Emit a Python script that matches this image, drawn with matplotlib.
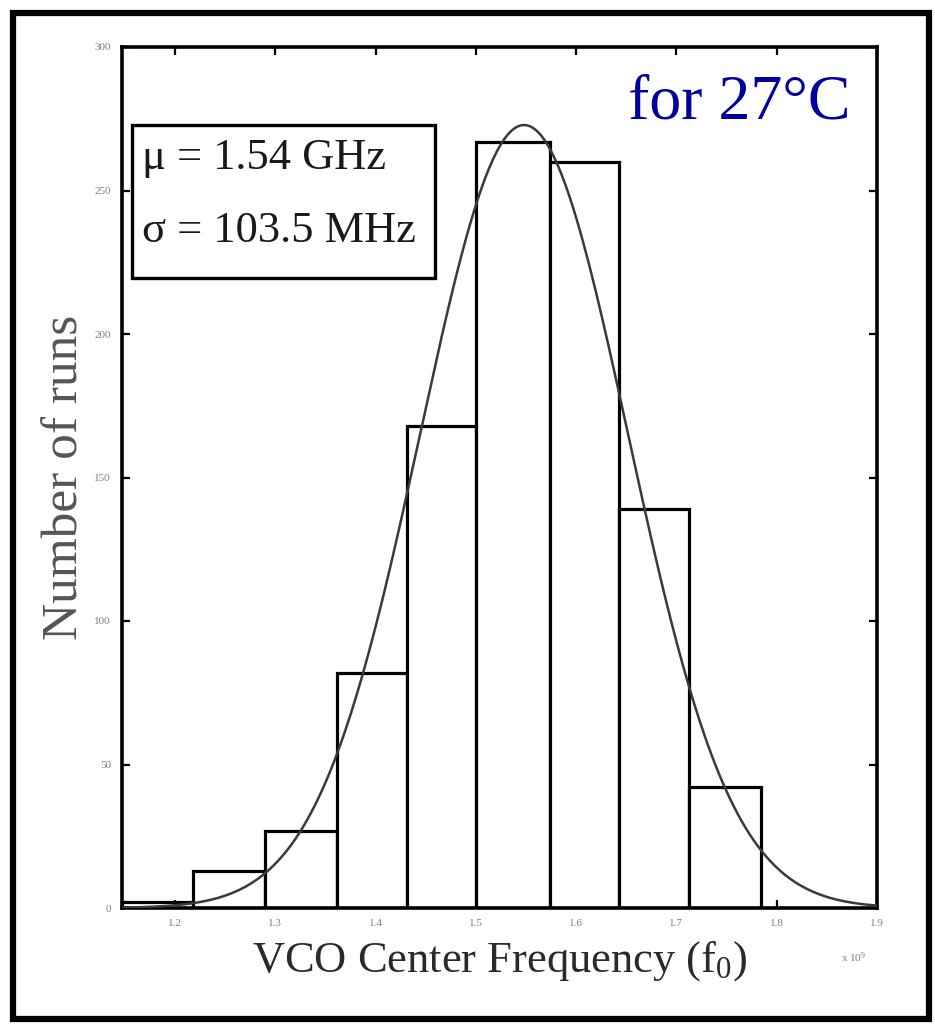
import numpy as np
import matplotlib
matplotlib.use('Agg')
import matplotlib.pyplot as plt
from matplotlib.patches import Rectangle

##### DATA #####
# histogram bin edges (x 1e9 Hz) and counts per bin
bin_edges = [1.147, 1.218, 1.290, 1.361, 1.431, 1.500, 1.574, 1.643, 1.712, 1.784]
counts = [2, 13, 27, 82, 168, 267, 260, 139, 42]

# fitted normal curve (as drawn)
fit_mean = 1.548
fit_sigma = 0.1035

x_ticks = [1.2, 1.3, 1.4, 1.5, 1.6, 1.7, 1.8, 1.9]
x_ticklabels = ['1.2', '1.3', '1.4', '1.5', '1.6', '1.7', '1.8', '1.9']
y_ticks = [0, 50, 100, 150, 200, 250, 300]

mu_label = 'μ = 1.54 GHz'
sigma_label = 'σ = 103.5 MHz'
temp_label = 'for 27°C'

##### STYLE #####
plt.rcParams['font.family'] = ['Liberation Serif', 'DejaVu Serif']
plt.rcParams['mathtext.fontset'] = 'custom'
plt.rcParams['mathtext.rm'] = 'Liberation Serif'
plt.rcParams['mathtext.it'] = 'Liberation Serif:italic'

W, H = 935, 1028
fig = plt.figure(figsize=(W / 100, H / 100), dpi=100, facecolor='white')

# axes box in pixels: left 122, right 877, top 47, bottom 908
ax = fig.add_axes([122 / W, 1 - 908 / H, (877 - 122) / W, (908 - 47) / H])

##### PLOT #####
edges = np.array(bin_edges)
widths = np.diff(edges)
ax.bar(edges[:-1], counts, width=widths, align='edge', facecolor='white',
       edgecolor='black', linewidth=2.3, zorder=2)

xlim = (bin_edges[0], 1.9)
xs = np.linspace(xlim[0], xlim[1], 400)
scale = sum(counts) * widths.mean() / (fit_sigma * np.sqrt(2 * np.pi))
ys = scale * np.exp(-0.5 * ((xs - fit_mean) / fit_sigma) ** 2)
ax.plot(xs, ys, color='#3a3a3a', linewidth=1.8, zorder=3)

ax.set_xlim(*xlim)
ax.set_ylim(0, 300)

ax.set_xticks(x_ticks)
ax.set_xticklabels(x_ticklabels)
ax.set_yticks(y_ticks)
ax.tick_params(direction='in', length=6, width=1.6, top=True, right=True,
               labelsize=8, labelcolor='#808080', pad=8)

for s in ax.spines.values():
    s.set_linewidth(2.6)

ax.set_xlabel(r'VCO Center Frequency (f$_\mathrm{0}$)', fontsize=32,
              color='#2a2a2a', labelpad=8)
ax.set_ylabel('Number of runs', fontsize=37, color='#555555', labelpad=4)

# exponent marker at bottom right
ax.text(0.985, -0.058, r'x 10$^\mathrm{9}$', transform=ax.transAxes, fontsize=8,
        color='#808080', ha='right', va='center')

# mu / sigma box
ax.add_patch(Rectangle((0.0132, 0.7317), 0.4014, 0.1777, transform=ax.transAxes,
                       facecolor='none', edgecolor='black', linewidth=2.4,
                       zorder=4))
ax.text(0.0265, 0.858, mu_label, transform=ax.transAxes, fontsize=32,
        color='#1a1a1a', va='baseline', ha='left', zorder=5)
ax.text(0.0265, 0.7735, sigma_label, transform=ax.transAxes, fontsize=32,
        color='#1a1a1a', va='baseline', ha='left', zorder=5)

ax.text(0.670, 0.9175, temp_label, transform=ax.transAxes, fontsize=46,
        color='#0000a0', va='baseline', ha='left', zorder=5)

# outer frame around the whole figure
fig.patches.append(Rectangle((13 / W, 1 - 1019 / H), (929 - 13) / W, (1019 - 13) / H,
                             transform=fig.transFigure, facecolor='none',
                             edgecolor='black', linewidth=4.5))

fig.savefig('out.png', dpi=100, facecolor='white')
